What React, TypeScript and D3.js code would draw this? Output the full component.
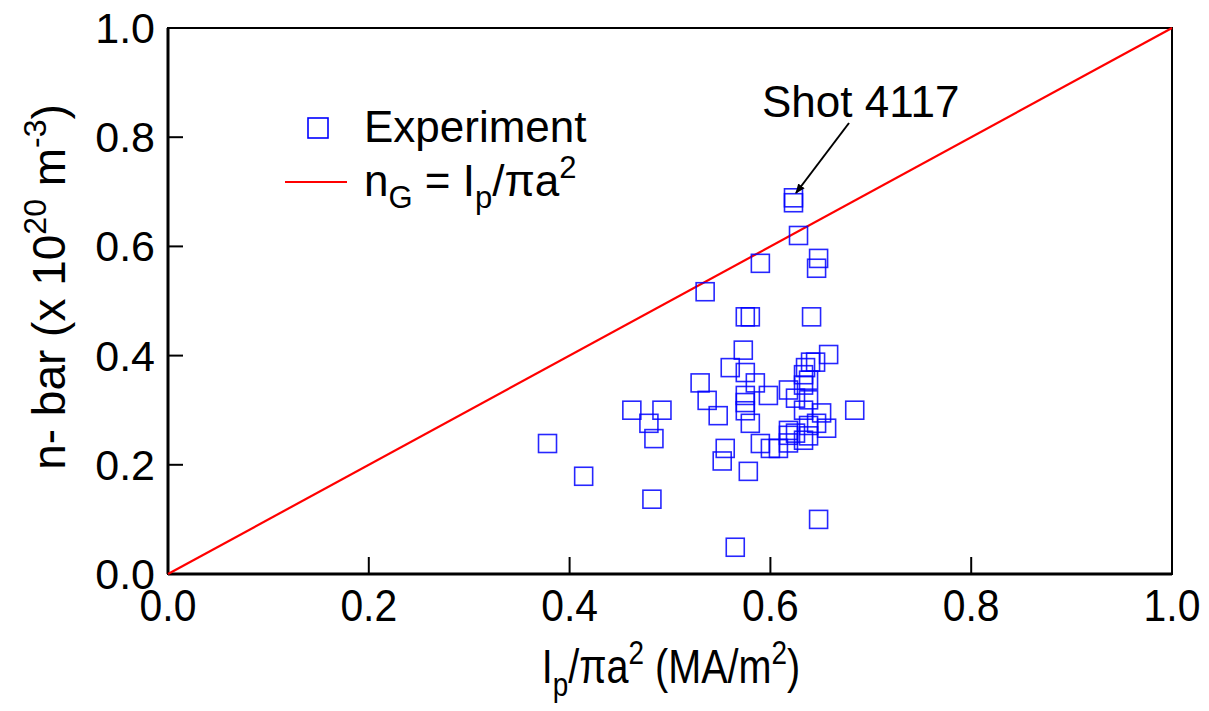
import React from "react";
import * as d3 from "d3";

const expX = [
  0.623, 0.623, 0.628, 0.590, 0.648, 0.646, 0.575, 0.580, 0.641, 0.535,
  0.573, 0.560, 0.575, 0.585, 0.530, 0.537, 0.548, 0.575, 0.575, 0.575,
  0.580, 0.598, 0.590, 0.600, 0.555, 0.552, 0.578, 0.608,
  0.658, 0.640, 0.645, 0.635, 0.633, 0.638, 0.633, 0.618, 0.625, 0.638,
  0.633, 0.651, 0.646, 0.656, 0.638, 0.618, 0.625, 0.618, 0.633, 0.638,
  0.618, 0.684,
  0.462, 0.492, 0.479, 0.484, 0.378, 0.414, 0.482, 0.565, 0.648
];
const expY = [
  0.689, 0.680, 0.620, 0.569, 0.578, 0.560, 0.471, 0.471, 0.471, 0.517,
  0.410, 0.378, 0.369, 0.350, 0.350, 0.318, 0.290, 0.327, 0.314, 0.299,
  0.276, 0.327, 0.239, 0.230, 0.230, 0.207, 0.188, 0.230,
  0.402, 0.388, 0.388, 0.378, 0.365, 0.355, 0.346, 0.337, 0.322, 0.319,
  0.300, 0.295, 0.276, 0.267, 0.272, 0.263, 0.258, 0.254, 0.245, 0.253,
  0.240, 0.300,
  0.300, 0.300, 0.276, 0.248, 0.239, 0.179, 0.137, 0.049, 0.100
];
const tickValues = [0, 0.2, 0.4, 0.6, 0.8, 1.0];
const lineX = [0, 1];

const FONT = "'Liberation Sans', Arial, Helvetica, sans-serif";

export default function App() {
  const left = 168, right = 1172, top = 28, bottom = 574;
  const x = d3.scaleLinear().domain([0, 1]).range([left, right]);
  const y = d3.scaleLinear().domain([0, 1]).range([bottom, top]);
  const line = d3.line<number>().x((d) => x(d)).y((d) => y(d));
  const sq = 18;
  const fs = 43;
  const fl = 44;

  return (
    <svg width={1209} height={711} style={{ position: "absolute", left: 0, top: 0 }} fontFamily={FONT}>
      <defs>
        <marker id="arrow" viewBox="0 0 10 10" refX="9" refY="5" markerWidth="5" markerHeight="5" orient="auto">
          <path d="M0,1 L10,5 L0,9 Z" fill="#000" />
        </marker>
      </defs>
      <rect x={0} y={0} width={1209} height={711} fill="#fff" />
      {/* frame */}
      <rect x={left} y={top} width={right - left} height={bottom - top} fill="none" stroke="#000" strokeWidth={2} />
      <line x1={left} y1={top} x2={left} y2={bottom} stroke="#000" strokeWidth={3} />
      <line x1={left} y1={bottom} x2={right} y2={bottom} stroke="#000" strokeWidth={3} />
      {/* ticks */}
      {tickValues.map((t) => (
        <g key={"t" + t}>
          <line x1={x(t)} x2={x(t)} y1={bottom} y2={bottom - 17} stroke="#000" strokeWidth={2} />
          <line x1={left} x2={left + 15} y1={y(t)} y2={y(t)} stroke="#000" strokeWidth={2} />
          <text transform={`translate(${x(t)},621) scale(0.95,1.05)`} fontSize={fs} textAnchor="middle">{t.toFixed(1)}</text>
          <text x={155} y={y(t) + 15} fontSize={fs} textAnchor="end">{t.toFixed(1)}</text>
        </g>
      ))}
      {/* Greenwald line */}
      <path d={line(lineX) || ""} fill="none" stroke="#ff0000" strokeWidth={2.2} />
      {/* points */}
      {expX.map((v, i) => (
        <rect key={"p" + i} x={x(v) - sq / 2} y={y(expY[i]) - sq / 2} width={sq} height={sq}
          fill="none" stroke="#0000ff" strokeWidth={1.6} strokeOpacity={0.85} />
      ))}
      {/* annotation */}
      <text x={762} y={117} fontSize={fl}>Shot 4117</text>
      <line x1={849} y1={123} x2={796} y2={193} stroke="#000" strokeWidth={2} markerEnd="url(#arrow)" />
      {/* legend */}
      <rect x={308} y={118} width={20} height={20} fill="none" stroke="#0000ff" strokeWidth={1.6} />
      <text x={364} y={142} fontSize={fl}>Experiment</text>
      <line x1={285} x2={347} y1={182} y2={182} stroke="#ff0000" strokeWidth={2.2} />
      <text x={364} y={196} fontSize={fl}>
        <tspan>n</tspan>
        <tspan fontSize={31} dy={12}>G</tspan>
        <tspan dy={-12}> = I</tspan>
        <tspan fontSize={31} dy={12}>p</tspan>
        <tspan dy={-12}>/πa</tspan>
        <tspan fontSize={31} dy={-18}>2</tspan>
      </text>
      {/* x title */}
      <text transform="translate(671,683) scale(0.9,1.08)" fontSize={44} textAnchor="middle">
        <tspan>I</tspan>
        <tspan fontSize={31} dy={12}>p</tspan>
        <tspan dy={-12}>/πa</tspan>
        <tspan fontSize={31} dy={-18}>2</tspan>
        <tspan dy={18}> (MA/m</tspan>
        <tspan fontSize={31} dy={-18}>2</tspan>
        <tspan dy={18}>)</tspan>
      </text>
      {/* y title */}
      <text transform="translate(65,287) rotate(-90)" fontSize={46} textAnchor="middle">
        <tspan>n- bar (x 10</tspan>
        <tspan fontSize={32} dy={-19}>20</tspan>
        <tspan dy={19}> m</tspan>
        <tspan fontSize={32} dy={-19}>-3</tspan>
        <tspan dy={19}>)</tspan>
      </text>
    </svg>
  );
}
